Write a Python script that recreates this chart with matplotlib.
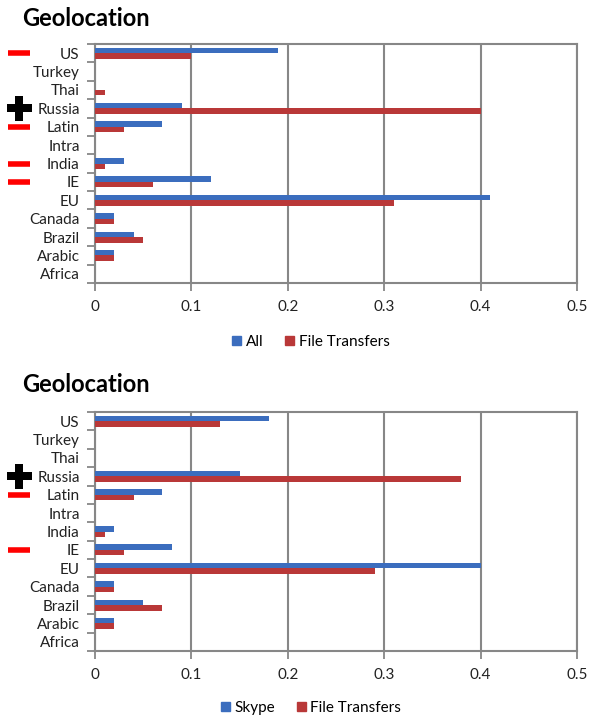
import matplotlib
matplotlib.use("Agg")
import matplotlib.pyplot as plt
import matplotlib.transforms as mtransforms
from matplotlib.patches import Patch
import numpy as np

# ---- data ----
categories = ["US", "Turkey", "Thai", "Russia", "Latin", "Intra", "India",
              "IE", "EU", "Canada", "Brazil", "Arabic", "Africa"]

top_all = [0.19, 0, 0, 0.09, 0.07, 0, 0.03, 0.12, 0.41, 0.02, 0.04, 0.02, 0]
top_ft = [0.10, 0, 0.01, 0.40, 0.03, 0, 0.01, 0.06, 0.31, 0.02, 0.05, 0.02, 0]

bot_skype = [0.18, 0, 0, 0.15, 0.07, 0, 0.02, 0.08, 0.40, 0.02, 0.05, 0.02, 0]
bot_ft = [0.13, 0, 0, 0.38, 0.04, 0, 0.01, 0.03, 0.29, 0.02, 0.07, 0.02, 0]

top_marks = {"US": "-", "Russia": "+", "Latin": "-", "India": "-", "IE": "-"}
bot_marks = {"Russia": "+", "Latin": "-", "IE": "-"}

series_top = ["All", "File Transfers"]
series_bot = ["Skype", "File Transfers"]
title = "Geolocation"
xticks = [0, 0.1, 0.2, 0.3, 0.4, 0.5]
xticklabels = ["0", "0.1", "0.2", "0.3", "0.4", "0.5"]

BLUE = "#3B6DBE"
RED = "#B93838"
GRID = "#878787"
FONT = ["Lato", "DejaVu Sans"]

plt.rcParams["font.family"] = FONT

fig = plt.figure(figsize=(5.89, 7.17), dpi=100)
W, H = 589, 717


def draw(ax_rect, s1, s2, names, marks, title_y, legend_y):
    ax = fig.add_axes(ax_rect)
    n = len(categories)
    y = np.arange(n)[::-1]
    h = 0.30
    ax.barh(y + h / 2, s1, height=h, color=BLUE, zorder=3, label=names[0])
    ax.barh(y - h / 2, s2, height=h, color=RED, zorder=3, label=names[1])
    ax.set_ylim(-0.5, n - 0.5)
    ax.set_xlim(0, 0.5)
    ax.set_yticks(y)
    ax.set_yticklabels(categories, fontsize=11, color="#222222")
    ax.set_yticks(np.arange(-0.5, n, 1.0), minor=True)
    ax.tick_params(axis="y", which="major", length=0, pad=11)
    ax.tick_params(axis="y", which="minor", length=6, width=1.3, color=GRID,
                   direction="out")
    ax.set_xticks(xticks)
    ax.set_xticklabels(xticklabels, fontsize=11, color="#222222")
    ax.tick_params(axis="x", which="major", length=6, width=1.3, color=GRID,
                   direction="out", pad=6)
    ax.grid(axis="x", color=GRID, linewidth=1.5, zorder=0)
    for s in ax.spines.values():
        s.set_color(GRID)
        s.set_linewidth(1.5)
    # markers beside the category labels
    trans = mtransforms.blended_transform_factory(ax.transAxes, ax.transData)
    for cat, m in marks.items():
        yy = y[categories.index(cat)]
        if m == "-":
            ax.plot([-0.158], [yy], marker="_", markersize=16,
                    markeredgewidth=4, color="#FF0000", transform=trans,
                    clip_on=False)
        else:
            ax.plot([-0.158], [yy], marker="P", markersize=18,
                    color="black", markeredgewidth=0, transform=trans,
                    clip_on=False)
    fig.text(22 / W, title_y, title, fontsize=17, fontweight="bold",
             ha="left", va="center", family=FONT)
    handles = [Patch(color=BLUE, label=names[0]),
               Patch(color=RED, label=names[1])]
    fig.legend(handles=handles, loc="center", bbox_to_anchor=(311 / W, legend_y),
               ncol=2, frameon=False, fontsize=11, handlelength=0.6,
               handleheight=0.6, handletextpad=0.3, columnspacing=1.4)
    return ax


draw([95 / W, (H - 283) / H, 482 / W, 239 / H], top_all, top_ft, series_top,
     top_marks, 1 - 18 / H, 1 - 342 / H)
draw([95 / W, (H - 651) / H, 482 / W, 239 / H], bot_skype, bot_ft, series_bot,
     bot_marks, 1 - 385 / H, 1 - 708 / H)

fig.savefig("out.png", dpi=100)
